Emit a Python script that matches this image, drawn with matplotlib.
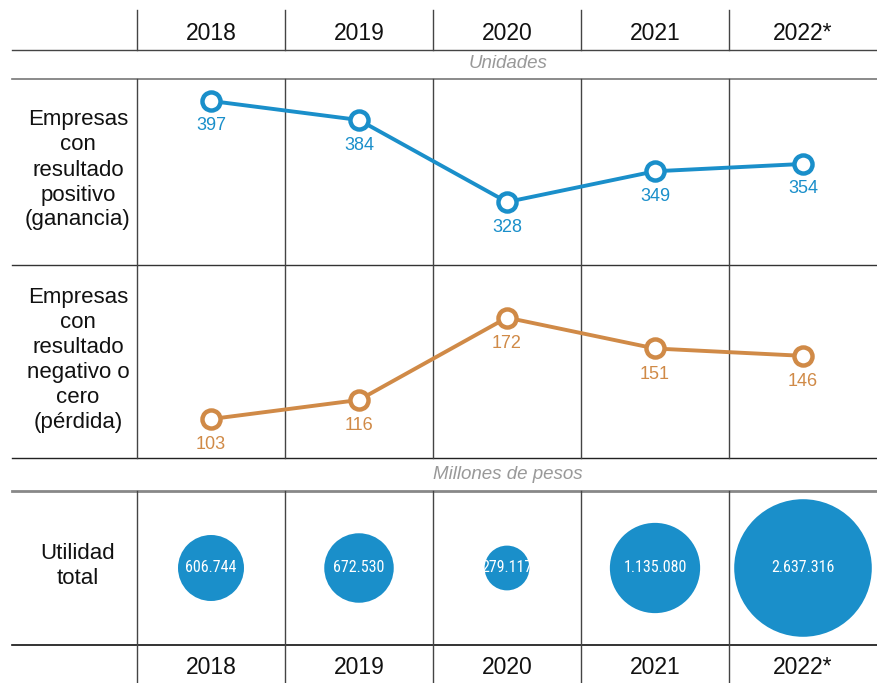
import matplotlib
matplotlib.use("Agg")
import matplotlib.pyplot as plt
from matplotlib import font_manager

# ---- data ----
years = ["2018", "2019", "2020", "2021", "2022*"]
positivas = [397, 384, 328, 349, 354]
negativas = [103, 116, 172, 151, 146]
utilidad = [606744, 672530, 279117, 1135080, 2637316]
utilidad_labels = ["606.744", "672.530", "279.117", "1.135.080", "2.637.316"]
row_labels = ["Empresas\ncon\nresultado\npositivo\n(ganancia)",
              "Empresas\ncon\nresultado\nnegativo o\ncero\n(pérdida)",
              "Utilidad\ntotal"]
unit_labels = ["Unidades", "Millones de pesos"]

BLUE = "#1a8fca"
ORANGE = "#d08a47"
FONT = ["Liberation Sans", "DejaVu Sans"]
plt.rcParams["font.family"] = FONT

available = {f.name for f in font_manager.fontManager.ttflist}
narrow = None
for cand in ["Liberation Sans Narrow", "Roboto Condensed", "DejaVu Sans Condensed",
             "Open Sans Condensed"]:
    if cand in available:
        narrow = cand
        break

W, H = 877, 683
fig = plt.figure(figsize=(W / 100, H / 100), dpi=100)

# background axes in pixel coordinates for the table grid
bg = fig.add_axes([0, 0, 1, 1])
bg.set_xlim(0, W)
bg.set_ylim(H, 0)
bg.axis("off")

x0, colw = 137, 148
col_edges = [x0 + i * colw for i in range(len(years))]

# horizontal rules
bg.plot([12, W], [50, 50], color="#444444", lw=1.0)
bg.plot([12, W], [79, 79], color="#777777", lw=1.2)
bg.plot([12, W], [265, 265], color="#333333", lw=1.0)
bg.plot([12, W], [458, 458], color="#222222", lw=1.0)
bg.plot([12, W], [491, 491], color="#888888", lw=2.0)
bg.plot([12, W], [645, 645], color="#111111", lw=1.2)

# vertical rules
for xe in col_edges:
    for (ya, yb) in [(10, 50), (79, 458), (491, H)]:
        bg.plot([xe, xe], [ya, yb], color="#444444", lw=1.0)

# unit labels
bg.text(508, 63.5, unit_labels[0], ha="center", va="center", fontsize=13.5,
        style="italic", color="#999999")
bg.text(508, 474.5, unit_labels[1], ha="center", va="center", fontsize=13.5,
        style="italic", color="#999999")

# row labels
for lab, yc in zip(row_labels, [170, 360, 566]):
    bg.text(78, yc, lab, ha="center", va="center", fontsize=16,
            linespacing=1.25, color="#111111")


def make_ax(top, bottom):
    ax = fig.add_axes([x0 / W, 1 - bottom / H, (W - x0) / W, (bottom - top) / H])
    ax.set_xlim(-0.5, len(years) - 0.5)
    ax.patch.set_alpha(0)
    ax.axis("off")
    return ax


xs = list(range(len(years)))

# header / footer years
for top, bottom in [(10, 50), (645, H)]:
    axh = make_ax(top, bottom)
    axh.set_ylim(0, 1)
    for i, y in enumerate(years):
        axh.text(i, 0.42 if top == 10 else 0.4, y, ha="center", va="center",
                 fontsize=16.5, color="#111111")

# positive line
axp = make_ax(79, 265)
axp.set_ylim(285, 412)
axp.plot(xs, positivas, color=BLUE, lw=2.8, marker="o", ms=13,
         mfc="white", mec=BLUE, mew=3.2, zorder=3, clip_on=False)
for i, v in enumerate(positivas):
    axp.annotate(str(v), (i, v), xytext=(0, -18), textcoords="offset points",
                 ha="center", va="center", fontsize=13, color=BLUE)

# negative line
axn = make_ax(265, 458)
axn.set_ylim(76.5, 207.8)
axn.plot(xs, negativas, color=ORANGE, lw=2.8, marker="o", ms=13,
         mfc="white", mec=ORANGE, mew=3.2, zorder=3, clip_on=False)
for i, v in enumerate(negativas):
    axn.annotate(str(v), (i, v), xytext=(0, -18.5), textcoords="offset points",
                 ha="center", va="center", fontsize=13, color=ORANGE)

# bubbles
axb = make_ax(491, 645)
axb.set_ylim(0, 1)
scale = 2258 / 606744
axb.scatter(xs, [0.5] * len(xs), s=[v * scale for v in utilidad], color=BLUE,
            edgecolors="none", zorder=3, clip_on=False)
for i, lab in enumerate(utilidad_labels):
    kw = dict(family=[narrow] + FONT, fontsize=11.5) if narrow else dict(fontsize=10)
    axb.text(i, 0.5, lab, ha="center", va="center", color="white", zorder=4, **kw)

fig.savefig("out.png", dpi=100)
